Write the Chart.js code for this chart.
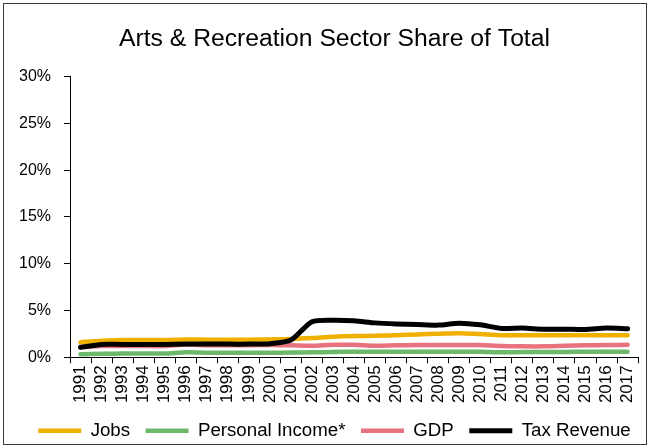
<!DOCTYPE html>
<html>
<head>
<meta charset="utf-8">
<script src="https://cdn.jsdelivr.net/npm/chart.js@4/dist/chart.umd.min.js"></script>
<style>
  html, body { margin: 0; padding: 0; background: #fff; }
  #wrap { width: 650px; height: 448px; }
</style>
</head>
<body>
<div id="wrap"><canvas id="share-chart" width="650" height="448"></canvas></div>
<script>
// values, % of total
const years = ['1991', '1992', '1993', '1994', '1995', '1996', '1997', '1998', '1999', '2000',
  '2001', '2002', '2003', '2004', '2005', '2006', '2007', '2008', '2009', '2010',
  '2011', '2012', '2013', '2014', '2015', '2016', '2017'];

const jobs = [1.6, 1.77, 1.84, 1.85, 1.86, 1.91, 1.88, 1.88, 1.88, 1.91,
  1.95, 2.05, 2.19, 2.27, 2.3, 2.37, 2.45, 2.51, 2.58, 2.48,
  2.37, 2.37, 2.37, 2.37, 2.37, 2.37, 2.37];

const personalIncome = [0.32, 0.37, 0.4, 0.4, 0.4, 0.53, 0.49, 0.49, 0.49, 0.49,
  0.51, 0.53, 0.56, 0.6, 0.6, 0.6, 0.6, 0.6, 0.6, 0.6,
  0.53, 0.56, 0.56, 0.56, 0.6, 0.6, 0.6];

const gdp = [1.13, 1.2, 1.2, 1.2, 1.2, 1.36, 1.3, 1.3, 1.3, 1.31,
  1.28, 1.23, 1.34, 1.34, 1.23, 1.28, 1.31, 1.31, 1.31, 1.31,
  1.2, 1.17, 1.17, 1.23, 1.28, 1.31, 1.34];

const taxRevenue = [1.06, 1.38, 1.38, 1.38, 1.38, 1.41, 1.41, 1.41, 1.41, 1.45,
  1.84, 3.8, 3.97, 3.9, 3.68, 3.57, 3.51, 3.44, 3.65, 3.47,
  3.09, 3.12, 3.01, 3.01, 2.98, 3.12, 3.04];

const FONT = 'Liberation Sans, Arial, sans-serif';

// thin frame round the whole chart
const frame = {
  id: 'frame',
  afterDraw(chart) {
    const ctx = chart.ctx;
    ctx.save();
    ctx.strokeStyle = '#3c3c3c';
    ctx.lineWidth = 1;
    ctx.strokeRect(3.5, 3.5, 643, 441);
    ctx.restore();
  }
};

const line = (label, values, color, order, width) => ({
  label: label,
  data: values,
  borderColor: color,
  backgroundColor: color,
  borderWidth: width,
  pointRadius: 0,
  tension: 0.25,
  borderCapStyle: 'round',
  order: order,
});

new Chart(document.getElementById('share-chart'), {
  type: 'line',
  data: {
    labels: years,
    datasets: [
      line('Jobs', jobs, '#F0B000', 3, 4.5),
      line('Personal Income*', personalIncome, '#6DB86B', 2, 4.5),
      line('GDP', gdp, '#E8737F', 1, 4.5),
      line('Tax Revenue', taxRevenue, '#000000', 0, 5),
    ],
  },
  options: {
    responsive: false,
    animation: false,
    layout: { padding: { left: 20, right: 1, top: 0, bottom: -2 } },
    plugins: {
      title: {
        display: true,
        text: 'Arts & Recreation Sector Share of Total',
        color: '#000',
        font: { family: FONT, size: 24.7, weight: 'normal' },
        padding: { top: 24, bottom: 23 },
      },
      legend: {
        position: 'bottom',
        labels: {
          color: '#000',
          font: { family: FONT, size: 18.7 },
          usePointStyle: true,
          pointStyle: 'line',
          pointStyleWidth: 43,
          padding: 15.5,
          sort: (a, b) => a.datasetIndex - b.datasetIndex,
        },
      },
      tooltip: { enabled: false },
    },
    scales: {
      x: {
        offset: true,
        grid: { offset: true, drawOnChartArea: false, drawTicks: true, tickLength: 6, color: '#000' },
        border: { display: true, color: '#000', width: 1 },
        ticks: {
          color: '#000',
          font: { family: FONT, size: 17 },
          minRotation: 90,
          maxRotation: 90,
          autoSkip: false,
          padding: 2,
        },
        afterFit(scale) { scale.height = 48.5; },
      },
      y: {
        min: 0,
        max: 30,
        grid: { drawOnChartArea: false, drawTicks: true, tickLength: 6, color: '#000' },
        border: { display: true, color: '#000', width: 1 },
        ticks: {
          stepSize: 5,
          color: '#000',
          font: { family: FONT, size: 16 },
          padding: 13,
          callback: (v) => v + '%',
        },
        afterFit(scale) { scale.width = 50; },
      },
    },
  },
  plugins: [frame],
});
</script>
</body>
</html>
